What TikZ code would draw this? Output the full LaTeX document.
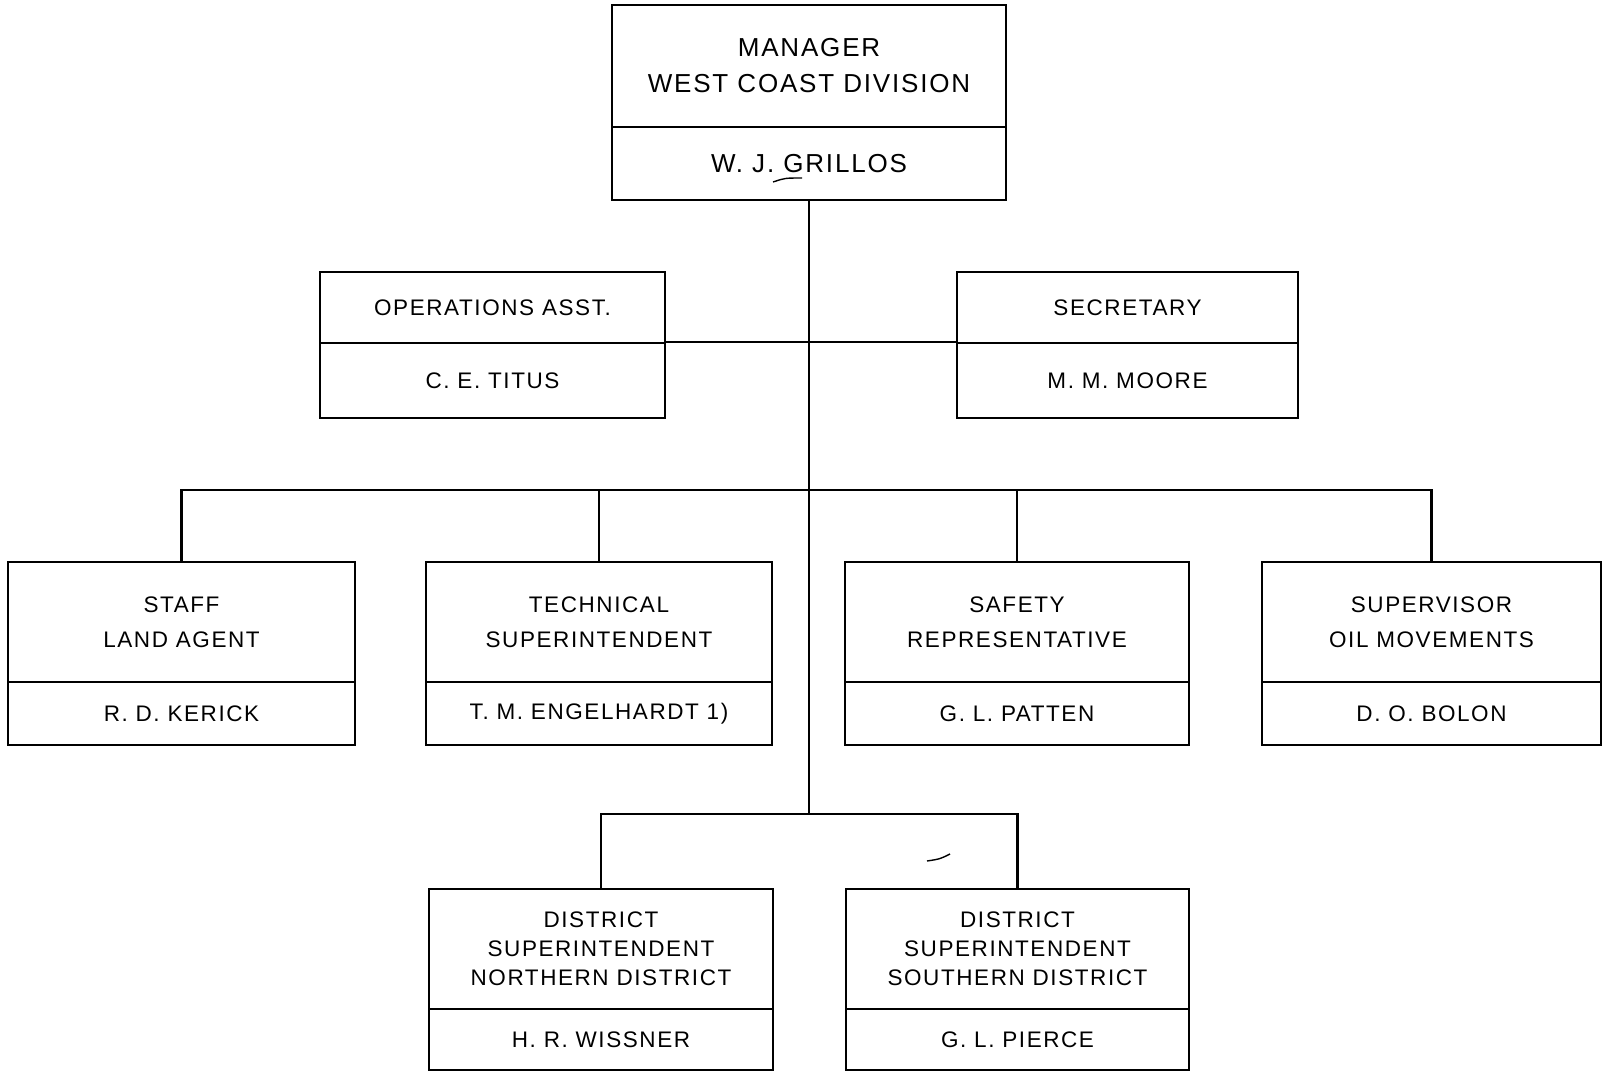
\documentclass[tikz,border=0pt]{standalone}
\usepackage{fontspec}
\newfontfamily\orgfont{Liberation Sans}[LetterSpace=7]
\begin{document}
\begin{tikzpicture}[x=1pt,y=-1pt]
\tikzset{
  cell/.style={draw, line width=2pt, inner sep=0pt, align=center,
    font=\orgfont\fontsize{22.5}{35}\selectfont},
  bigcell/.style={cell, font=\orgfont\fontsize{26}{36}\selectfont},
  distcell/.style={cell, font=\orgfont\fontsize{22.5}{29}\selectfont},
  conn/.style={line width=2.4pt},
  handmark/.style={line width=1.4pt}
}
\useasboundingbox (0,0) rectangle (1606,1079);
% manager
\node[bigcell, minimum width=394pt, minimum height=122pt] (mgr) at (809,66) {MANAGER\\WEST COAST DIVISION};
\node[bigcell, minimum width=394pt, minimum height=73pt] (mgrn) at (809,163.5) {W. J. GRILLOS};
% staff level
\node[cell, minimum width=345pt, minimum height=71pt] (ops) at (492.5,307.5) {OPERATIONS ASST.};
\node[cell, minimum width=345pt, minimum height=75pt] (opsn) at (492.5,380.5) {C. E. TITUS};
\node[cell, minimum width=341pt, minimum height=71pt] (sec) at (1127.5,307.5) {SECRETARY};
\node[cell, minimum width=341pt, minimum height=75pt] (secn) at (1127.5,380.5) {M. M. MOORE};
% row
\node[cell, minimum width=347pt, minimum height=120pt] (staff) at (181.5,622) {STAFF\\LAND AGENT};
\node[cell, minimum width=347pt, minimum height=63pt] (staffn) at (181.5,713.5) {R. D. KERICK};
\node[cell, minimum width=346pt, minimum height=120pt] (tech) at (599,622) {TECHNICAL\\SUPERINTENDENT};
\node[cell, minimum width=346pt, minimum height=63pt] (techn) at (599,713.5) {T. M. ENGELHARDT 1)};
\node[cell, minimum width=344pt, minimum height=120pt] (safe) at (1017,622) {SAFETY\\REPRESENTATIVE};
\node[cell, minimum width=344pt, minimum height=63pt] (safen) at (1017,713.5) {G. L. PATTEN};
\node[cell, minimum width=339pt, minimum height=120pt] (sup) at (1431.5,622) {SUPERVISOR\\OIL MOVEMENTS};
\node[cell, minimum width=339pt, minimum height=63pt] (supn) at (1431.5,713.5) {D. O. BOLON};
% districts
\node[distcell, minimum width=344pt, minimum height=120pt] (dn) at (601,949) {DISTRICT\\SUPERINTENDENT\\NORTHERN DISTRICT};
\node[distcell, minimum width=344pt, minimum height=61pt] (dnn) at (601,1039.5) {H. R. WISSNER};
\node[distcell, minimum width=343pt, minimum height=120pt] (ds) at (1017.5,949) {DISTRICT\\SUPERINTENDENT\\SOUTHERN DISTRICT};
\node[distcell, minimum width=343pt, minimum height=61pt] (dsn) at (1017.5,1039.5) {G. L. PIERCE};
% connectors
\coordinate (bus) at (809,490);
\coordinate (dbus) at (809,814);
\draw[conn] (mgrn.south) -- (dbus);
\draw[conn] (opsn.north east) -- (secn.north west);
\draw[conn] (staff.north) |- (bus) -| (sup.north);
\draw[conn] (tech.north) -- (tech.north |- bus);
\draw[conn] (safe.north) -- (safe.north |- bus);
\draw[conn] (dn.north) |- (dbus) -| (ds.north);
% hand marks
\draw[handmark] (773,182) .. controls (785,178) .. (802,178);
\draw[handmark] (927,861) .. controls (940,859) .. (950,854);
\end{tikzpicture}
\end{document}
